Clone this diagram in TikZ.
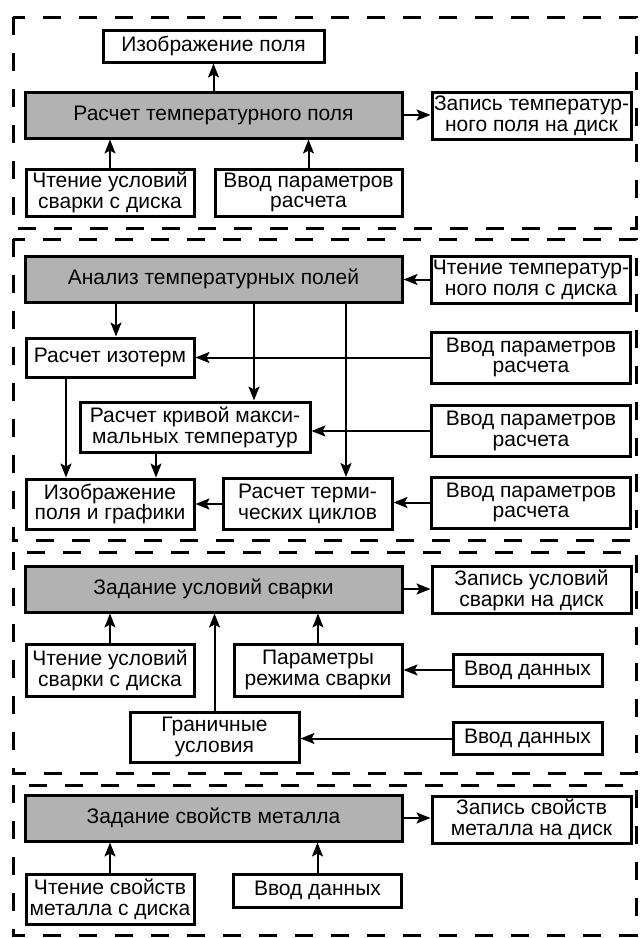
\documentclass[tikz,border=0pt]{standalone}
\usepackage{fontspec}
\setmainfont{Liberation Sans}
\usetikzlibrary{arrows.meta}

\begin{document}
\begin{tikzpicture}[ x=0.5pt, y=-0.5pt,
    >={Stealth[length=7pt,width=5.5pt,inset=1.5pt]},
    block/.style={ draw, line width=1.5pt, inner sep=0pt, align=center,
      font=\fontsize{10.5}{10.4}\selectfont },
    main/.style={ block, fill=black!30, minimum width=188.5pt,
      minimum height=23pt },
    rbox/.style={ block, minimum width=99.5pt, minimum height=23.5pt },
    lbox/.style={ block, minimum width=84pt, minimum height=23.5pt },
    flow/.style={ ->, line width=1pt },
    frame/.style={ line width=1.5pt, dash pattern=on 9pt off 9pt } ]
  \useasboundingbox (0,0) rectangle (639,938);
  \foreach \t/\b in {17/228,239/540,552/773,785/935}
  \draw[frame] (13,\t) rectangle (636,\b);

  % temperature field
  \node[main] (s1fld) at (213.5,115) {Расчет температурного поля};
  \node[block,minimum width=110.5pt,minimum height=16pt] (s1img)
    at (213.5,46) {Изображение поля};
  \node[rbox] (s1save) at (531.5,115.5) {Запись температур-\\ного поля на диск};
  \node[lbox] (s1read) at (110,192.5) {Чтение условий\\сварки с диска};
  \node[lbox,minimum width=93.5pt] (s1par) at (308.5,192.5)
    {Ввод параметров\\расчета};
  \draw[flow] (s1fld) -- (s1img);
  \draw[flow] (s1fld.east) -- (s1fld.east -| s1save.west);
  \draw[flow] (s1read) -- (s1read |- s1fld.south);
  \draw[flow] (s1par) -- (s1par |- s1fld.south);

  % analysis
  \node[main] (s2anl) at (213.5,279) {Анализ температурных полей};
  \node[rbox] (s2read) at (531,279.5) {Чтение температур-\\ного поля с диска};
  \node[lbox,minimum height=19.5pt] (s2iso) at (110,357.5) {Расчет изотерм};
  \node[block,minimum width=115pt,minimum height=25pt] (s2max) at (195,427)
    {Расчет кривой макси-\\мальных температур};
  \node[lbox,minimum height=25pt] (s2out) at (110,504)
    {Изображение\\поля и графики};
  \node[block,minimum width=84.5pt,minimum height=25.5pt] (s2cyc)
    at (307.5,504) {Расчет терми-\\ческих циклов};
  \foreach \y/\n in {357.5/1,431/2,502.5/3}
  \node[rbox,minimum height=25.5pt] (s2par\n) at (531,\y)
    {Ввод параметров\\расчета};
  \draw[flow] (s2read.west) -- (s2read.west -| s2anl.east);
  \draw[flow] ([xshift=3pt]s2iso.north |- s2anl.south)
    -- ([xshift=3pt]s2iso.north);
  \draw[flow] ([xshift=29.5pt]s2max.north |- s2anl.south)
    -- ([xshift=29.5pt]s2max.north);
  \draw[flow] ([xshift=19.25pt]s2cyc.north |- s2anl.south)
    -- ([xshift=19.25pt]s2cyc.north);
  \draw[flow] ([xshift=-22pt]s2iso.south) -- ([xshift=-22pt]s2out.north);
  \draw[flow] ([xshift=-19.5pt]s2max.south)
    -- ([xshift=-19.5pt]s2max.south |- s2out.north);
  \draw[flow] (s2par1.west) -- (s2par1.west -| s2iso.east);
  \draw[flow] (s2par2.west) -- (s2par2.west -| s2max.east);
  \draw[flow] (s2par3.west) -- (s2par3.west -| s2cyc.east);
  \draw[flow] (s2cyc.west) -- (s2cyc.west -| s2out.east);

  % welding conditions
  \node[main] (s3set) at (213.5,589) {Задание условий сварки};
  \node[rbox] (s3save) at (531.5,590) {Запись условий\\сварки на диск};
  \node[lbox,minimum height=26pt] (s3read) at (110,670)
    {Чтение условий\\сварки с диска};
  \node[lbox,minimum height=26pt] (s3mode) at (318,670)
    {Параметры\\режима сварки};
  \node[lbox,minimum width=84.5pt,minimum height=25pt] (s3bnd) at (214.5,737)
    {Граничные\\условия};
  \node[block,minimum width=74.5pt,minimum height=16pt] (s3in1) at (527.5,670)
    {Ввод данных};
  \node[block,minimum width=74.5pt,minimum height=16pt] (s3in2) at (527.5,738.5)
    {Ввод данных};
  \draw[flow] (s3set.east) -- (s3set.east -| s3save.west);
  \draw[flow] (s3read) -- (s3read |- s3set.south);
  \draw[flow] (s3mode) -- (s3mode |- s3set.south);
  \draw[flow] (s3bnd) -- (s3bnd |- s3set.south);
  \draw[flow] (s3in1) -- (s3in1 -| s3mode.east);
  \draw[flow] (s3in2) -- (s3in2 -| s3bnd.east);

  % metal properties
  \node[main] (s4set) at (213.5,818) {Задание свойств металла};
  \node[rbox] (s4save) at (531.5,819.5) {Запись свойств\\металла на диск};
  \node[lbox,minimum height=25pt] (s4read) at (110,899)
    {Чтение свойств\\металла с диска};
  \node[lbox,minimum height=16.5pt] (s4in) at (317.5,890.5) {Ввод данных};
  \draw[flow] (s4set.east) -- (s4set.east -| s4save.west);
  \draw[flow] (s4read) -- (s4read |- s4set.south);
  \draw[flow] (s4in) -- (s4in |- s4set.south);
\end{tikzpicture}
\end{document}
